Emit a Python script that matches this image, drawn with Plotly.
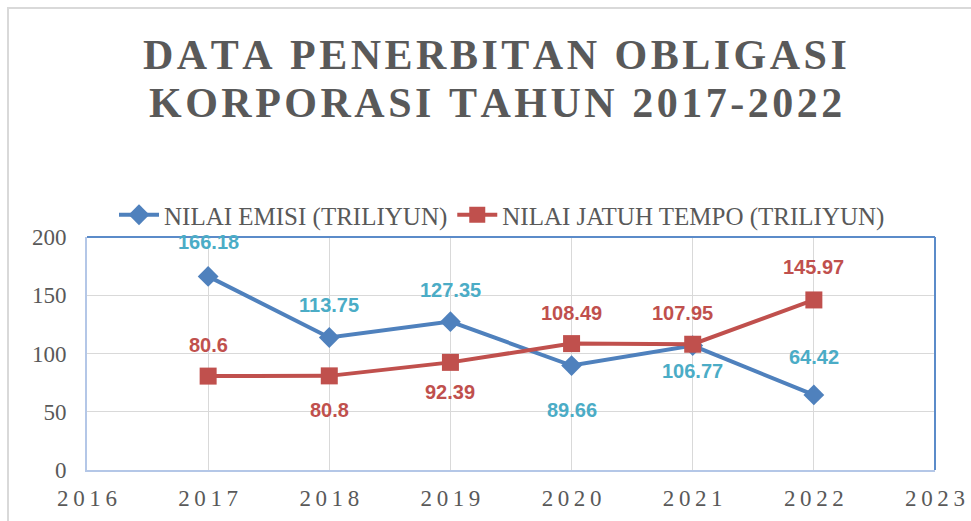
import plotly.graph_objects as go

years = [2017, 2018, 2019, 2020, 2021, 2022]
emisi = [166.18, 113.75, 127.35, 89.66, 106.77, 64.42]
jatuh_tempo = [80.6, 80.8, 92.39, 108.49, 107.95, 145.97]
x_ticks = [2016, 2017, 2018, 2019, 2020, 2021, 2022, 2023]
y_ticks = [0, 50, 100, 150, 200]
series_names = ["NILAI EMISI (TRILIYUN)", "NILAI JATUH TEMPO (TRILIYUN)"]
title_lines = ["DATA PENERBITAN OBLIGASI", "KORPORASI TAHUN 2017-2022"]

# label placement styles (pixel shifts)
emisi_shift = [34, 32, 32, -44, -25, 38]
jatuh_shift = [31, -34, -30, 31, 31, 33]
jatuh_xshift = [0, 0, 0, 0, -10, 0]

BLUE = "#4F81BD"
RED = "#C0504D"
TEAL = "#4BACC6"
GRAY = "#595959"
SERIF = "Liberation Serif"
W, H = 971, 521
L, R, T, B = 87, 36, 237, 51

def spaced(s, sep="\u2009"):
    return sep.join(list(s))

fig = go.Figure()
fig.add_trace(go.Scatter(
    x=years, y=emisi, name=series_names[0], mode="lines+markers",
    line=dict(color=BLUE, width=4),
    marker=dict(symbol="diamond", size=16, color=BLUE),
))
fig.add_trace(go.Scatter(
    x=years, y=jatuh_tempo, name=series_names[1], mode="lines+markers",
    line=dict(color=RED, width=4),
    marker=dict(symbol="square", size=17, color=RED),
))

ann = []
for xv, yv, s in zip(years, emisi, emisi_shift):
    ann.append(dict(x=xv, y=yv, text=f"{yv:g}", showarrow=False, yshift=s,
                    font=dict(family="Liberation Sans", size=20, color=TEAL, weight="bold")))
for xv, yv, s, xs in zip(years, jatuh_tempo, jatuh_shift, jatuh_xshift):
    ann.append(dict(x=xv, y=yv, text=f"{yv:g}", showarrow=False, yshift=s, xshift=xs,
                    font=dict(family="Liberation Sans", size=20, color=RED, weight="bold")))

pw = W - L - R
ph = H - T - B
def px_x(p):
    return (p - L) / pw
def px_y(p):
    return (H - B - p) / ph

for i, line in enumerate(title_lines):
    ann.append(dict(xref="paper", yref="paper", x=px_x(495), y=px_y([55, 103][i]),
                    text=f"<b>{spaced(line, chr(0x200A))}</b>", showarrow=False, xanchor="center", yanchor="middle",
                    font=dict(family=SERIF, size=42, color=GRAY)))

shapes = [
    dict(type="rect", xref="paper", yref="paper", x0=px_x(8), x1=px_x(990), y0=px_y(540), y1=px_y(8),
         line=dict(color="#D9D9D9", width=2), layer="below"),
    dict(type="line", xref="paper", yref="paper", x0=0, x1=1, y0=1, y1=1, line=dict(color="#5B8BC9", width=2)),
    dict(type="line", xref="paper", yref="paper", x0=1, x1=1, y0=0, y1=1, line=dict(color="#5B8BC9", width=2)),
]

fig.update_layout(
    width=W, height=H,
    margin=dict(l=L, r=R, t=T, b=B, autoexpand=False),
    paper_bgcolor="white", plot_bgcolor="white",
    font=dict(family=SERIF),
    showlegend=True,
    legend=dict(orientation="h", x=px_x(502), y=px_y(215), xanchor="center", yanchor="middle",
                font=dict(family=SERIF, size=25, color=GRAY),
                itemwidth=40, tracegroupgap=0, bgcolor="rgba(0,0,0,0)"),
    annotations=ann,
    shapes=shapes,
    xaxis=dict(range=[2016, 2023], tickvals=x_ticks, ticktext=[spaced(str(t)) for t in x_ticks],
               showgrid=True, gridcolor="#D9D9D9", gridwidth=1, zeroline=False,
               showline=True, linecolor="#B4C7E7", linewidth=2, ticks="",
               ticklabelstandoff=6, automargin=False,
               tickfont=dict(family=SERIF, size=23, color=GRAY)),
    yaxis=dict(range=[0, 200], tickvals=y_ticks, showgrid=True, gridcolor="#D9D9D9", gridwidth=1,
               zeroline=False, showline=True, linecolor="#B4C7E7", linewidth=2, ticks="",
               ticklabelstandoff=14, automargin=False,
               tickfont=dict(family=SERIF, size=23, color=GRAY)),
)

fig.write_html("out.html")
